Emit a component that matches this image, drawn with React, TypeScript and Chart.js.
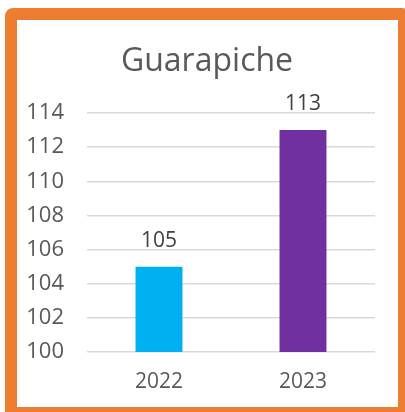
import React, { useEffect, useRef } from "react";
import { Chart, registerables } from "chart.js";

Chart.register(...registerables);

const TITLE = "Guarapiche";
const categories = ["2022", "2023"];
const values = [105, 113];
const barColors = ["#00B0F0", "#7030A0"];
const yMin = 100;
const yMax = 114;
const yStep = 2;

const FONT = "'Open Sans', 'Liberation Sans', sans-serif";

const valueLabels = {
  id: "valueLabels",
  afterDatasetsDraw(chart: any) {
    const ctx = chart.ctx;
    const meta = chart.getDatasetMeta(0);
    ctx.save();
    ctx.font = `21px ${FONT}`;
    ctx.fillStyle = "#404040";
    ctx.textAlign = "center";
    ctx.textBaseline = "middle";
    meta.data.forEach((bar: any, i: number) => {
      ctx.fillText(String(values[i]), bar.x, bar.y - 26);
    });
    ctx.restore();
  },
};

const titleDraw = {
  id: "titleDraw",
  afterDraw(chart: any) {
    const ctx = chart.ctx;
    ctx.save();
    ctx.font = `32px ${FONT}`;
    ctx.fillStyle = "#595959";
    ctx.textAlign = "center";
    ctx.textBaseline = "alphabetic";
    ctx.fillText(TITLE, 190, 51);
    ctx.restore();
  },
};

export default function App() {
  const ref = useRef<HTMLCanvasElement | null>(null);
  useEffect(() => {
    if (!ref.current) return;
    const chart = new Chart(ref.current, {
      type: "bar",
      data: {
        labels: categories,
        datasets: [
          {
            data: values,
            backgroundColor: barColors,
            barPercentage: 0.326,
            categoryPercentage: 1,
          },
        ],
      },
      options: {
        animation: false,
        responsive: false,
        layout: { padding: { left: 0, right: 23, top: 93, bottom: 0 } },
        plugins: {
          legend: { display: false },
          tooltip: { enabled: false },
          title: { display: false },
        },
        scales: {
          x: {
            grid: { display: false, drawTicks: false },
            border: { display: false },
            ticks: {
              color: "#595959",
              font: { family: FONT, size: 21 },
              padding: 17,
            },
            afterFit: (s: any) => {
              s.height = 55;
            },
          },
          y: {
            min: yMin,
            max: yMax,
            grid: { color: "#D9D9D9", lineWidth: 1.5, drawTicks: false },
            border: { display: false },
            ticks: {
              stepSize: yStep,
              color: "#595959",
              font: { family: FONT, size: 22 },
              padding: 23,
            },
            afterFit: (s: any) => {
              s.width = 70;
            },
          },
        },
      },
      plugins: [valueLabels, titleDraw],
    });
    return () => chart.destroy();
  }, []);

  return (
    <div
      style={{
        position: "fixed",
        left: 0,
        top: 0,
        width: 405,
        height: 412,
        overflow: "hidden",
        background: "#fff",
      }}
    >
      <div
        style={{
          position: "absolute",
          left: 5,
          top: 8,
          width: 381,
          height: 387,
          border: "12px solid #ED7D31",
          borderRadius: 8,
          background: "#fff",
        }}
      >
        <canvas ref={ref} width={381} height={387} style={{ display: "block" }} />
      </div>
    </div>
  );
}
